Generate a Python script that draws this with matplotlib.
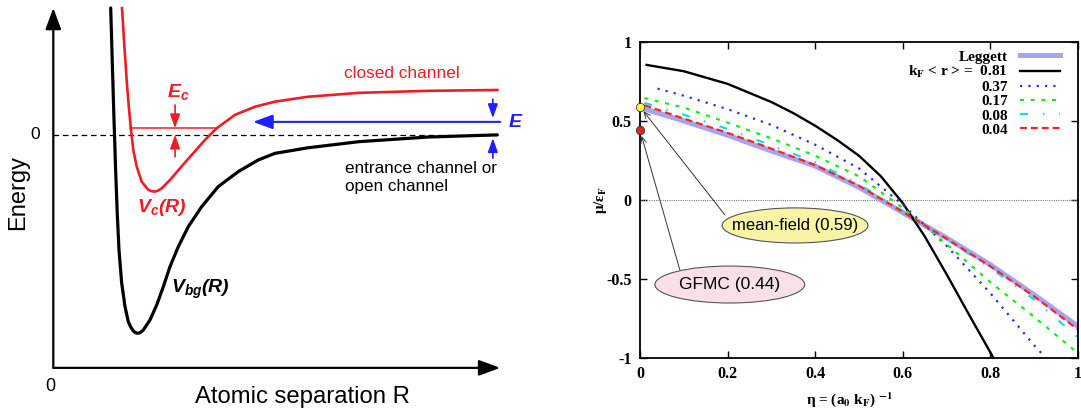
import matplotlib
matplotlib.use('Agg')
import matplotlib.pyplot as plt
from matplotlib.patches import Ellipse

# sketch labels (V_c, E_c ...) use a bold-italic sans mathtext; the plot on the right uses stix
plt.rcParams['mathtext.fontset'] = 'custom'
plt.rcParams['mathtext.rm'] = 'Liberation Sans:bold:italic'
plt.rcParams['mathtext.it'] = 'Liberation Sans:bold:italic'
plt.rcParams['mathtext.bf'] = 'Liberation Sans:bold:italic'

# ---- left panel: two-channel potential sketch (arbitrary units) ----
r_bg = [1.40, 1.44, 1.48, 1.52, 1.56, 1.602, 1.668, 1.749, 1.829, 1.89, 1.951, 2.0, 2.059,
        2.12, 2.195, 2.359, 2.522, 2.683, 2.846, 3.049, 3.293, 3.62, 4.024, 4.512, 5.0,
        5.407, 6.2, 7.45, 9.12, 10.83]
v_bg = [5.76, 3.2, 0.7, -1.6, -3.6, -5.24, -6.75, -7.82, -8.5, -8.75, -8.92, -9.0, -9.03,
        -9.0, -8.88, -8.42, -7.74, -6.91, -6.0, -5.09, -4.18, -3.27, -2.36, -1.68, -1.15,
        -0.85, -0.6, -0.32, -0.11, -0.01]
r_c = [1.675, 1.74, 1.80, 1.85, 1.895, 1.951, 2.034, 2.156, 2.317, 2.40, 2.48, 2.56, 2.644,
       2.846, 3.09, 3.376, 3.7, 3.985, 4.432, 4.92, 5.407, 6.2, 7.45, 9.12, 10.83]
v_c = [5.75, 3.85, 2.2, 1.1, 0.21, -0.70, -1.45, -2.14, -2.51, -2.57, -2.59, -2.54, -2.44,
       -2.06, -1.53, -0.92, -0.24, 0.29, 0.9, 1.27, 1.5, 1.72, 1.9, 1.99, 2.03]
bound_level = 0.29
bound_span = [1.87, 3.99]
ec_top = 1.35
ec_bottom = -1.01
e_collision = 0.58
e_bracket_top = [1.61, 0.75]
e_bracket_bottom = [-1.07, -0.16]
r_axis_end = 10.9
e_axis_top = 5.76
e_axis_bottom = -10.6

# ---- right panel: mu / eps_F versus eta = 1/(a0 kF) ----
eta = [0.0, 0.1, 0.2, 0.3, 0.4, 0.5, 0.6, 0.7, 0.8, 0.9, 1.0]
mu_leggett = [0.585, 0.50, 0.41, 0.31, 0.215, 0.08, -0.08, -0.24, -0.41, -0.60, -0.80]
eta_081 = [0.015, 0.1, 0.2, 0.3, 0.35, 0.4, 0.45, 0.5, 0.55, 0.6, 0.65, 0.7, 0.75, 0.8, 0.807]
mu_081 = [0.855, 0.815, 0.735, 0.62, 0.55, 0.47, 0.38, 0.28, 0.15, -0.02, -0.23, -0.47,
          -0.72, -0.965, -1.0]
eta_037 = [0.04, 0.1, 0.2, 0.3, 0.4, 0.5, 0.6, 0.7, 0.8, 0.9, 0.92]
mu_037 = [0.705, 0.66, 0.575, 0.475, 0.35, 0.20, -0.03, -0.29, -0.59, -0.92, -0.98]
eta_small = [0.01, 0.1, 0.2, 0.3, 0.4, 0.5, 0.6, 0.7, 0.8, 0.9, 1.0]
mu_017 = [0.645, 0.585, 0.49, 0.39, 0.28, 0.15, -0.05, -0.28, -0.52, -0.74, -0.97]
mu_008 = [0.615, 0.54, 0.45, 0.345, 0.24, 0.10, -0.07, -0.25, -0.43, -0.63, -0.87]
mu_004 = [0.60, 0.515, 0.425, 0.325, 0.22, 0.09, -0.075, -0.245, -0.42, -0.61, -0.82]
mean_field_mu = 0.59
gfmc_mu = 0.44
x_ticks = [0, 0.2, 0.4, 0.6, 0.8, 1.0]
x_tick_labels = ['0', '0.2', '0.4', '0.6', '0.8', '1']
y_ticks = [-1, -0.5, 0, 0.5, 1]
y_tick_labels = ['-1', '-0.5', '0', '0.5', '1']

RED = '#ee1c25'
BLUE = '#1f1fff'

fig = plt.figure(figsize=(10.81, 4.09), dpi=100)

# ================= left: potential curves =================
axl = fig.add_axes([0, 0, 540 / 1081, 1])
axl.set_xlim(-1.3, 11.87)
axl.set_ylim(-12.47, 6.12)
axl.axis('off')

big_head = dict(arrowstyle='-|>,head_length=0.65,head_width=0.24', mutation_scale=20,
                lw=1.6, color='k', shrinkA=0, shrinkB=0)
axl.annotate('', xy=(0, e_axis_top), xytext=(0, e_axis_bottom), arrowprops=big_head)
axl.annotate('', xy=(r_axis_end, e_axis_bottom), xytext=(0, e_axis_bottom), arrowprops=big_head)

axl.plot([0, r_c[-1]], [0, 0], color='k', lw=0.9, dashes=(4.5, 3))
axl.plot(r_bg, v_bg, color='k', lw=2.3, solid_joinstyle='round', solid_capstyle='round')
axl.plot(r_c, v_c, color=RED, lw=1.9, solid_joinstyle='round')
axl.plot(bound_span, [bound_level, bound_level], color=RED, lw=1.1)

small_red = dict(arrowstyle='-|>,head_length=0.7,head_width=0.25', mutation_scale=12,
                 lw=1.2, color=RED, shrinkA=0, shrinkB=0)
axl.annotate('', xy=(2.97, bound_level), xytext=(2.97, ec_top), arrowprops=small_red)
axl.annotate('', xy=(2.97, 0), xytext=(2.97, ec_bottom), arrowprops=small_red)

axl.annotate('', xy=(4.87, e_collision), xytext=(r_axis_end, e_collision),
             arrowprops=dict(arrowstyle='-|>,head_length=0.6,head_width=0.22', mutation_scale=20,
                             lw=1.5, color=BLUE, shrinkA=0, shrinkB=0))
small_blue = dict(arrowstyle='-|>,head_length=0.7,head_width=0.25', mutation_scale=12,
                  lw=1.2, color=BLUE, shrinkA=0, shrinkB=0)
axl.annotate('', xy=(10.72, e_bracket_top[1]), xytext=(10.72, e_bracket_top[0]), arrowprops=small_blue)
axl.annotate('', xy=(10.72, e_bracket_bottom[1]), xytext=(10.72, e_bracket_bottom[0]), arrowprops=small_blue)

sans = 'Liberation Sans'
axl.text(8.5, 2.8, 'closed channel', color=RED, fontsize=12.4, family=sans, ha='center', va='center')
axl.text(7.125, -1.18, 'entrance channel or\nopen channel', color='k', fontsize=12.3, family=sans,
         ha='left', va='top', linespacing=1.3)
axl.text(2.78, 1.73, r'$E_c$', color=RED, fontsize=14, ha='left', va='baseline')
axl.text(2.03, -3.5, r'$V_c(R)$', color=RED, fontsize=14, ha='left', va='baseline')
axl.text(2.875, -7.2, r'$V_{bg}(R)$', color='k', fontsize=14, ha='left', va='baseline')
axl.text(11.1, 0.35, r'$E$', color=BLUE, fontsize=14, ha='left', va='baseline', clip_on=False)
axl.text(-0.43, 0, '0', fontsize=12.5, family=sans, ha='center', va='center')
axl.text(-0.08, -11.46, '0', fontsize=13, family=sans, ha='center', va='center')
axl.text(-0.85, -2.65, 'Energy', fontsize=17, family=sans, rotation=90, ha='center', va='center')
axl.text(6.075, -11.92, 'Atomic separation R', fontsize=17.2, family=sans, ha='center', va='center')

# ================= right: chemical potential =================
serif = 'Liberation Serif'
axr = fig.add_axes([640 / 1081, 51 / 409, 438 / 1081, 316 / 409])
axr.set_xlim(0, 1)
axr.set_ylim(-1, 1)
axr.axhline(0, color='#808080', lw=0.8, ls=(0, (1, 1)))

axr.plot(eta, mu_leggett, color='#a4a4f2', lw=3.6, label='Leggett')
axr.plot(eta_081, mu_081, color='k', lw=1.7, label=r'k$_\mathbf{F}$ < r > =  0.81')
axr.plot(eta_037, mu_037, color='#2a2aff', lw=1.6, ls=(0, (1.0, 2.75)), label='0.37')
axr.plot(eta_small, mu_017, color='#11ee11', lw=1.6, ls=(0, (1.8, 3.0)), label='0.17')
axr.plot(eta_small, mu_008, color='#11e0e0', lw=1.6, ls=(0, (3.6, 6.7, 0.7, 6.7)), label='0.08')
axr.plot(eta_small, mu_004, color='#ff2222', lw=1.6, ls=(0, (3.1, 1.8)), label='0.04')

axr.legend(loc='upper right', bbox_to_anchor=(0.959, 0.975), frameon=False, markerfirst=False,
           prop=dict(family=serif, weight='bold', size=11, math_fontfamily='stix'),
           handlelength=2.6, handletextpad=0.8, labelspacing=0.03, borderpad=0, borderaxespad=0)

# mean-field and GFMC values at unitarity
axr.plot([0], [mean_field_mu], 'o', ms=6, mfc='#ffff44', mec='#333333', mew=0.6, clip_on=False, zorder=8)
axr.plot([0], [gfmc_mu], 'o', ms=6, mfc='#e62222', mec='#333333', mew=0.6, clip_on=False, zorder=8)

pointer = dict(arrowstyle='->,head_length=0.45,head_width=0.2', lw=0.7, color='#333333',
               shrinkA=0, shrinkB=4)
axr.annotate('', xy=(0, mean_field_mu), xytext=(0.194, -0.095), arrowprops=pointer, zorder=4)
axr.annotate('', xy=(0, gfmc_mu), xytext=(0.091, -0.443), arrowprops=pointer, zorder=4)

axr.add_patch(Ellipse((0.354, -0.161), 0.333, 0.222, fc='#f8f4a6', ec='#555555', lw=0.8,
                      zorder=5, clip_on=False))
axr.add_patch(Ellipse((0.205, -0.535), 0.342, 0.234, fc='#f9dfe8', ec='#555555', lw=0.8,
                      zorder=5, clip_on=False))
axr.text(0.354, -0.161, f'mean-field ({mean_field_mu:.2f})', fontsize=12, family=sans,
         ha='center', va='center', zorder=6)
axr.text(0.205, -0.535, f'GFMC ({gfmc_mu:.2f})', fontsize=12.5, family=sans,
         ha='center', va='center', zorder=6)

axr.set_xticks(x_ticks)
axr.set_xticklabels(x_tick_labels)
axr.set_yticks(y_ticks)
axr.set_yticklabels(y_tick_labels)
axr.tick_params(direction='in', length=5, width=1, top=True, right=True, pad=6)
for lab in axr.get_xticklabels() + axr.get_yticklabels():
    lab.set_family(serif)
    lab.set_weight('bold')
    lab.set_size(11.5)
for sp in axr.spines.values():
    sp.set_linewidth(1.3)

axr.text(-0.091, 0.5, r'μ/ε$_\mathbf{F}$', rotation=90, transform=axr.transAxes, ha='center',
         va='center', family=serif, weight='bold', size=11, math_fontfamily='stix')
axr.text(0.479, -0.13, r'η = (a$_\mathbf{0}$ k$_\mathbf{F}$) $^\mathbf{-1}$', transform=axr.transAxes,
         ha='center', va='center', family=serif, weight='bold', size=11, math_fontfamily='stix')

fig.savefig('out.png', dpi=100)
